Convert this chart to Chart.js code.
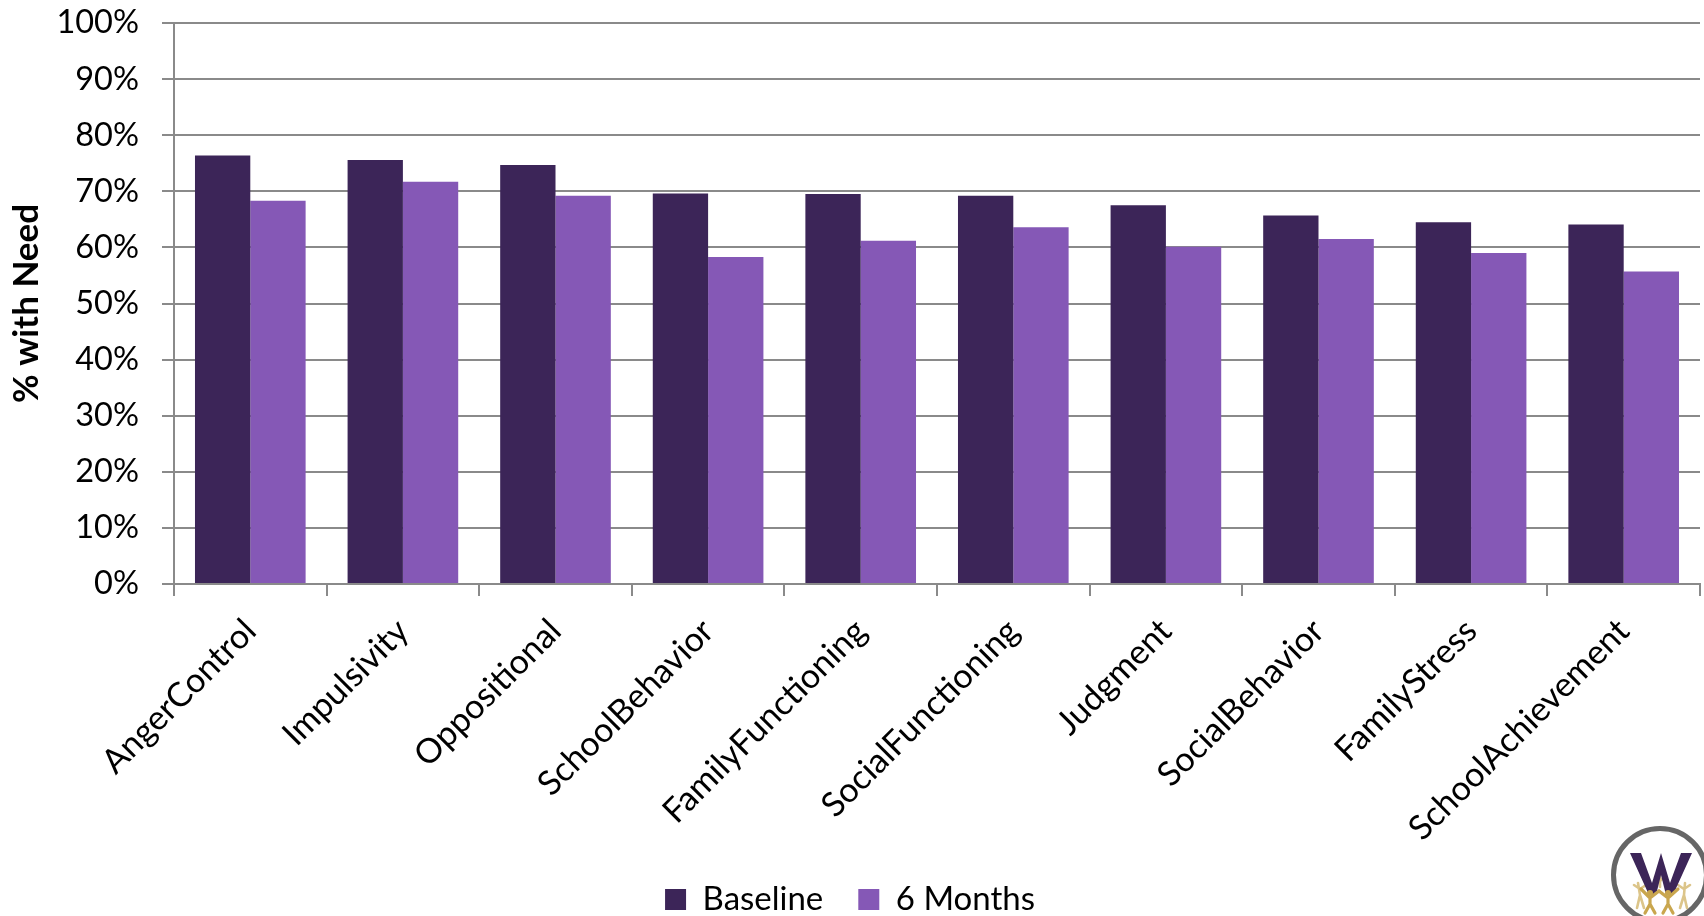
<!DOCTYPE html>
<html>
<head>
<meta charset="utf-8">
<title>% with Need</title>
<script src="https://cdn.jsdelivr.net/npm/chart.js@4"></script>
<style>
  html, body { margin: 0; padding: 0; background: #fff; overflow: hidden; }
  #wrap { position: relative; width: 1704px; height: 916px; overflow: hidden; }
  #logo { position: absolute; left: 1600px; top: 815px; }
</style>
</head>
<body>
<div id="wrap">
  <canvas id="myChart" width="1704" height="916"></canvas>
  <!-- organisation badge in the corner -->
  <svg id="logo" width="120" height="120" viewBox="0 0 120 120">
    <circle cx="60" cy="60" r="46.5" fill="#fff" stroke="#666" stroke-width="5"/>
    <g fill="none" stroke="#dcc58a" stroke-width="2.6" stroke-linecap="round">
      <path d="M38 68 L40 80 M40 80 L37 93 M40 80 L44 93 M40 74 L34 70 M40 74 L46 70"/>
      <path d="M85 68 L84 80 M84 80 L80 93 M84 80 L87 93 M84 74 L78 70 M84 74 L90 70"/>
      <path d="M60 60 V72 M60 66 L55 62 M60 66 L65 62"/>
    </g>
    <path d="M30 38 H41 L52 68 L61 38 L70 68 L81 38 H92 L73 80 H66 L61 60 L56 80 H49 Z" fill="#3c2558"/>
    <g fill="none" stroke="#c9a64e" stroke-width="3.2" stroke-linecap="round">
      <path d="M50 82 V89 M50 89 L45 98 M50 89 L55 98 M50 83 L41 74 M50 83 L59 76"/>
      <path d="M68 82 V89 M68 89 L63 98 M68 89 L73 98 M68 83 L59 76 M68 83 L78 74"/>
    </g>
    <g fill="#c9a64e">
      <circle cx="50" cy="78" r="3"/>
      <circle cx="68" cy="78" r="3"/>
    </g>
  </svg>
</div>
<script>
const fontName = 'Lato, "Open Sans", sans-serif';
const categories = ['AngerControl', 'Impulsivity', 'Oppositional', 'SchoolBehavior', 'FamilyFunctioning',
  'SocialFunctioning', 'Judgment', 'SocialBehavior', 'FamilyStress', 'SchoolAchievement'];
const baseline = [76.4, 75.6, 74.7, 69.6, 69.5, 69.2, 67.5, 65.7, 64.5, 64.1];
const sixMonths = [68.3, 71.7, 69.2, 58.3, 61.2, 63.6, 60.1, 61.5, 59.0, 55.7];
const axisColor = '#8a8a8a';

const ctx = document.getElementById('myChart').getContext('2d');
// no "ti" ligature in the labels
ctx.textRendering = 'optimizeSpeed';

const myChart = new Chart(ctx, {
  type: 'bar',
  data: {
    labels: categories,
    datasets: [{
      label: 'Baseline',
      data: baseline,
      backgroundColor: '#3c2558',
      barPercentage: 1,
      categoryPercentage: 0.725
    }, {
      label: '6 Months',
      data: sixMonths,
      backgroundColor: '#8558b6',
      barPercentage: 1,
      categoryPercentage: 0.725
    }]
  },
  plugins: [{
    id: 'whitePage',
    beforeDraw: (chart) => {
      chart.ctx.save();
      chart.ctx.fillStyle = '#fff';
      chart.ctx.fillRect(0, 0, chart.width, chart.height);
      chart.ctx.restore();
    }
  }],
  options: {
    responsive: false,
    animation: false,
    layout: {
      padding: { top: 23, right: 4, left: 0, bottom: -10 }
    },
    plugins: {
      tooltip: { enabled: false },
      legend: {
        position: 'bottom',
        labels: {
          color: '#000',
          boxWidth: 21,
          boxHeight: 21,
          padding: 35,
          font: { family: fontName, size: 33 }
        }
      }
    },
    scales: {
      x: {
        afterFit: (axis) => {
          axis.height = 264;
          axis.paddingLeft = 0;
          axis.paddingRight = 0;
        },
        grid: {
          color: axisColor,
          lineWidth: 2,
          drawOnChartArea: false,
          tickLength: 12
        },
        border: { color: axisColor, width: 2 },
        ticks: {
          color: '#000',
          autoSkip: false,
          minRotation: 45,
          maxRotation: 45,
          padding: 15,
          font: { family: fontName, size: 34 }
        }
      },
      y: {
        min: 0,
        max: 100,
        afterFit: (axis) => {
          axis.width = 174;
          axis.paddingTop = 0;
          axis.paddingBottom = 0;
        },
        grid: {
          color: axisColor,
          lineWidth: 2,
          tickLength: 12
        },
        border: { color: axisColor, width: 2 },
        ticks: {
          color: '#000',
          stepSize: 10,
          padding: 23,
          callback: (value) => value + '%',
          font: { family: fontName, size: 32.5 }
        },
        title: {
          display: true,
          text: '% with Need',
          color: '#000',
          padding: { top: 6, bottom: 0 },
          font: { family: fontName, size: 35, weight: 'bold' }
        }
      }
    }
  }
});
</script>
</body>
</html>
